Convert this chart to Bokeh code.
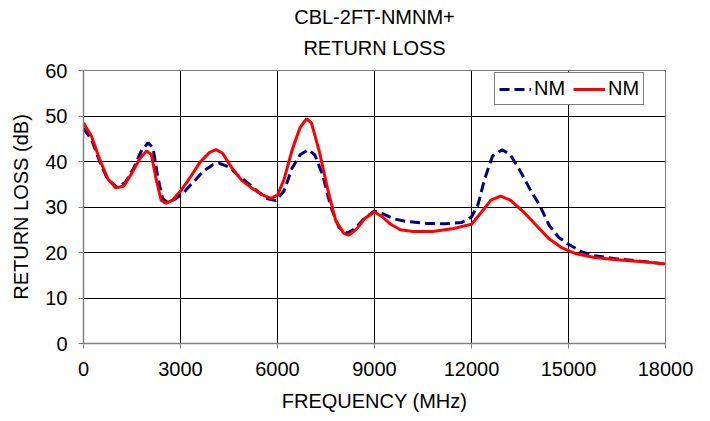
from bokeh.plotting import figure
from bokeh.models import Range1d, FixedTicker, Legend, LegendItem, Title
from bokeh.embed import file_html
from bokeh.resources import INLINE

title_line1 = "CBL-2FT-NMNM+"
title_line2 = "RETURN LOSS"
x_label = "FREQUENCY (MHz)"
y_label = "RETURN LOSS (dB)"
x_ticks = [0, 3000, 6000, 9000, 12000, 15000, 18000]
y_ticks = [0, 10, 20, 30, 40, 50, 60]

nm1_name = "NM"
nm1_freq = [0, 250, 500, 750, 1050, 1300, 1550, 1800, 2000, 2150, 2300, 2450, 2600,
            2850, 3100, 3400, 3700, 4000, 4200, 4500, 4800, 5100, 5400, 5700, 5950,
            6200, 6450, 6700, 6950, 7150, 7400, 7650, 7900, 8150, 8400, 8700, 9000,
            9300, 9600, 10000, 10600, 11200, 11700, 12000, 12200, 12400, 12650, 12950,
            13200, 13500, 13800, 14100, 14400, 14700, 15000, 15400, 15800, 16500,
            17200, 18000]
nm1_rl = [47.3, 44.8, 40.0, 36.0, 34.3, 35.5, 38.5, 42.5, 44.1, 43.0, 36.5, 31.8, 31.0,
          31.8, 33.2, 35.5, 37.8, 39.3, 39.6, 38.8, 36.8, 35.2, 33.3, 31.8, 31.4,
          33.5, 38.5, 41.5, 42.6, 41.5, 37.0, 30.0, 25.5, 24.2, 25.3, 27.6, 29.1,
          28.4, 27.4, 26.8, 26.4, 26.3, 26.6, 27.8, 30.5, 36.0, 41.2, 42.6,
          41.5, 38.0, 34.0, 30.5, 26.0, 23.3, 21.8, 20.2, 19.3, 18.6,
          18.1, 17.5]

nm2_name = "NM"
nm2_freq = [0, 250, 500, 750, 1000, 1250, 1500, 1750, 1950, 2100, 2250, 2400, 2550,
            2750, 3000, 3300, 3600, 3900, 4100, 4300, 4600, 4900, 5200, 5500, 5800,
            6000, 6200, 6450, 6700, 6900, 7050, 7300, 7550, 7800, 8050, 8200, 8450,
            8700, 9000, 9250, 9500, 9800, 10200, 10800, 11400, 12000, 12300, 12600,
            12900, 13200, 13600, 14000, 14400, 14800, 15200, 15800, 16500, 17200, 18000]
nm2_rl = [48.5, 45.5, 40.5, 36.2, 34.2, 34.6, 37.5, 40.7, 42.3, 41.5, 36.0, 31.5, 30.8,
          31.5, 33.5, 36.5, 39.8, 42.0, 42.6, 41.8, 38.5, 35.8, 34.2, 32.8, 31.9,
          32.6, 36.0, 42.5, 47.5, 49.4, 48.5, 42.0, 34.0, 27.0, 24.2, 23.8, 25.2,
          27.5, 28.9, 27.8, 26.2, 25.0, 24.6, 24.6, 25.2, 26.2, 28.8, 31.5,
          32.4, 31.5, 29.0, 26.0, 23.0, 21.0, 19.8, 18.9, 18.4, 18.0, 17.5]

FONT = "Liberation Sans"

p = figure(width=705, height=418, output_backend="svg", toolbar_location=None,
           x_range=Range1d(0, 18000), y_range=Range1d(0, 60),
           min_border_left=83, min_border_right=40, min_border_top=70,
           min_border_bottom=75)

p.title.visible = False
for txt, so in ((title_line2, 23), (title_line1, -8)):
    t = Title(text=txt, align="center", text_font=FONT, text_font_size="20px",
              text_font_style="normal", text_color="black", standoff=so, offset=0)
    p.add_layout(t, "above")

p.background_fill_color = "white"
p.border_fill_color = "white"
p.outline_line_color = "#808080"
p.outline_line_width = 1

for ax in (p.xaxis[0], p.yaxis[0]):
    ax.axis_line_color = "#808080"
    ax.axis_line_width = 1.5
    ax.major_tick_line_color = "#808080"
    ax.major_tick_in = 0
    ax.major_tick_out = 5
    ax.minor_tick_line_color = None
    ax.major_label_text_font = FONT
    ax.major_label_text_font_size = "20px"
    ax.major_label_text_color = "black"
    ax.axis_label_text_font = FONT
    ax.axis_label_text_font_size = "20px"
    ax.axis_label_text_font_style = "normal"
    ax.axis_label_text_color = "black"

p.xaxis.ticker = FixedTicker(ticks=x_ticks)
p.yaxis.ticker = FixedTicker(ticks=y_ticks)
p.xaxis.axis_label = x_label
p.yaxis.axis_label = y_label
p.xaxis.major_label_standoff = 13
p.yaxis.major_label_standoff = 11
p.xaxis.axis_label_standoff = 11
p.yaxis.axis_label_standoff = 10

p.xgrid.ticker = FixedTicker(ticks=x_ticks)
p.ygrid.ticker = FixedTicker(ticks=y_ticks)
p.xgrid.grid_line_color = "black"
p.ygrid.grid_line_color = "black"
p.xgrid.grid_line_width = 1
p.ygrid.grid_line_width = 1

r1 = p.line(nm1_freq, nm1_rl, line_color="#000080", line_width=3, line_dash="10 5")
r2 = p.line(nm2_freq, nm2_rl, line_color="#FF0000", line_width=3)

legend = Legend(items=[LegendItem(label=nm1_name, renderers=[r1]),
                       LegendItem(label=nm2_name, renderers=[r2])],
                orientation="horizontal", location=(411, 238))
legend.label_text_font = FONT
legend.label_text_font_size = "20px"
legend.label_text_color = "black"
legend.glyph_width = 32
legend.glyph_height = 18
legend.label_standoff = 3
legend.spacing = 8
legend.padding = 4
legend.margin = 0
legend.border_line_color = "black"
legend.border_line_width = 1
legend.background_fill_alpha = 1
legend.label_height = 18
p.add_layout(legend, "center")

open("out.html", "w").write(file_html(p, INLINE))
